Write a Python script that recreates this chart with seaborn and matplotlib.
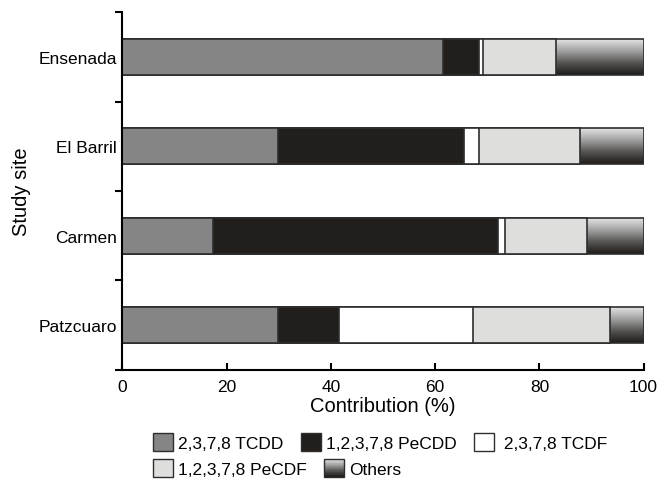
import numpy as np
import pandas as pd
import seaborn as sns
import matplotlib
matplotlib.use("Agg")
import matplotlib.pyplot as plt
from matplotlib.colors import LinearSegmentedColormap
from matplotlib.patches import Patch, Rectangle
from matplotlib.legend_handler import HandlerBase
from matplotlib.ticker import FixedLocator

# values (% contribution)
sites = ["Ensenada", "El Barril", "Carmen", "Patzcuaro"]
tcdd = [61.6, 29.9, 17.4, 29.9]
pecdd = [6.8, 35.7, 54.6, 11.6]
tcdf = [0.7, 2.9, 1.4, 25.7]
pecdf = [14.0, 19.2, 15.8, 26.4]
others = [16.9, 12.3, 10.8, 6.4]

labels = ["2,3,7,8 TCDD", "1,2,3,7,8 PeCDD", "2,3,7,8 TCDF", "1,2,3,7,8 PeCDF", "Others"]
colors = ["#858585", "#221e1b", "#ffffff", "#dededc", "#777777"]

sns.set_theme(style="ticks")
plt.rcParams["font.family"] = ["Liberation Sans", "DejaVu Sans"]
plt.rcParams["text.color"] = "black"
plt.rcParams["axes.labelcolor"] = "black"
plt.rcParams["xtick.color"] = "black"
plt.rcParams["ytick.color"] = "black"
fs = 12.5
fs_lab = 14.5

df = pd.DataFrame(dict(zip(labels, [tcdd, pecdd, tcdf, pecdf, others])), index=sites)
cum = df.cumsum(axis=1)
cum["site"] = sites

grad = LinearSegmentedColormap.from_list("grad", ["#e2e2e2", "#a0a0a0", "#565452", "#1e1b19"])

fig = plt.figure(figsize=(6.61, 4.85), dpi=100)
ax = fig.add_axes([0.1852, 0.2357, 0.7885, 0.737])

edge = "#2e2e2e"
others_patches = []
# draw cumulative bars from the longest to the shortest so they stack
for lab, col in reversed(list(zip(labels, colors))):
    n0 = len(ax.patches)
    sns.barplot(data=cum, x=lab, y="site", order=sites, orient="h", color=col,
                saturation=1, width=0.4, edgecolor=edge, linewidth=1.2, ax=ax)
    if lab == "Others":
        others_patches = ax.patches[n0:]

ramp = np.linspace(0, 1, 64).reshape(-1, 1)
for p in others_patches:
    p.set_facecolor("none")
    x0, y0, w, h = p.get_x(), p.get_y(), p.get_width(), p.get_height()
    im = ax.imshow(ramp, cmap=grad, aspect="auto", origin="upper",
                   extent=(x0, x0 + w, y0 + h, y0), interpolation="bilinear", zorder=0.5)
    im.set_clip_path(p)

ax.set_xlim(0, 100)
ax.set_ylim(3.5, -0.5)
ax.set_xticks([0, 20, 40, 60, 80, 100])
sns.despine(ax=ax)
for s in ["left", "bottom"]:
    ax.spines[s].set_linewidth(1.5)
    ax.spines[s].set_color("black")

ax.yaxis.set_minor_locator(FixedLocator([-0.5, 0.5, 1.5, 2.5, 3.5]))
ax.tick_params(axis="y", which="major", length=0, pad=4, labelsize=fs)
ax.tick_params(axis="y", which="minor", length=5, width=1.5, direction="out", left=True)
ax.tick_params(axis="x", which="major", length=5, width=1.5, direction="in", pad=7, labelsize=fs)

ax.set_xlabel("Contribution (%)", fontsize=fs_lab, labelpad=1)
ax.set_ylabel("Study site", fontsize=fs_lab, labelpad=5)


class GradHandler(HandlerBase):
    def create_artists(self, legend, orig_handle, xdescent, ydescent, width, height, fontsize, trans):
        n = 24
        arts = []
        for i in range(n):
            arts.append(Rectangle((-xdescent, -ydescent + height * (1 - (i + 1) / n)), width, height / n,
                                  facecolor=grad(i / (n - 1)), edgecolor="none", transform=trans))
        arts.append(Rectangle((-xdescent, -ydescent), width, height, facecolor="none",
                              edgecolor=edge, linewidth=1.0, transform=trans))
        return arts


handles = [Patch(facecolor=c, edgecolor=edge, linewidth=1.0) for c in colors]
leg_kw = dict(frameon=False, fontsize=fs, handlelength=1.15, handleheight=1.2,
              handletextpad=0.3, columnspacing=1.0, borderpad=0, borderaxespad=0,
              loc="upper left")
leg1 = fig.legend(handles[:3], labels[:2] + [" " + labels[2]], ncol=3,
                  bbox_to_anchor=(153 / 661, 1 - 434 / 485), **leg_kw)
leg2 = fig.legend(handles[3:], labels[3:], ncol=2, handler_map={handles[4]: GradHandler()},
                  bbox_to_anchor=(153 / 661, 1 - 460 / 485), **leg_kw)

fig.savefig("out.png", dpi=100)
